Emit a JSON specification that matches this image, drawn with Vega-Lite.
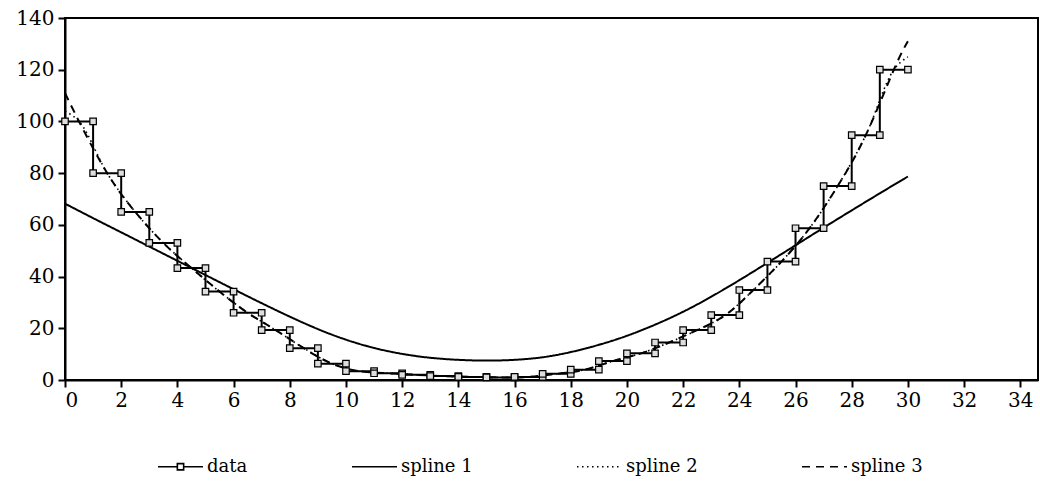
{
  "$schema": "https://vega.github.io/schema/vega-lite/v6.json",
  "autosize": {"type": "none"},
  "padding": {"left": 65, "top": 18, "right": 2, "bottom": 102},
  "width": 973,
  "height": 362,
  "background": "white",
  "datasets": {
    "steps": [
      {"k":0,"x":0,"y":100},{"k":1,"x":1,"y":100},
      {"k":2,"x":1,"y":80},{"k":3,"x":2,"y":80},
      {"k":4,"x":2,"y":65},{"k":5,"x":3,"y":65},
      {"k":6,"x":3,"y":53},{"k":7,"x":4,"y":53},
      {"k":8,"x":4,"y":43.3},{"k":9,"x":5,"y":43.3},
      {"k":10,"x":5,"y":34.2},{"k":11,"x":6,"y":34.2},
      {"k":12,"x":6,"y":26},{"k":13,"x":7,"y":26},
      {"k":14,"x":7,"y":19.3},{"k":15,"x":8,"y":19.3},
      {"k":16,"x":8,"y":12.3},{"k":17,"x":9,"y":12.3},
      {"k":18,"x":9,"y":6.3},{"k":19,"x":10,"y":6.3},
      {"k":20,"x":10,"y":3.4},{"k":21,"x":11,"y":3.4},
      {"k":22,"x":11,"y":2.6},{"k":23,"x":12,"y":2.6},
      {"k":24,"x":12,"y":2.0},{"k":25,"x":13,"y":2.0},
      {"k":26,"x":13,"y":1.5},{"k":27,"x":14,"y":1.5},
      {"k":28,"x":14,"y":1.2},{"k":29,"x":15,"y":1.2},
      {"k":30,"x":15,"y":1.0},{"k":31,"x":16,"y":1.0},
      {"k":32,"x":16,"y":1.2},{"k":33,"x":17,"y":1.2},
      {"k":34,"x":17,"y":2.4},{"k":35,"x":18,"y":2.4},
      {"k":36,"x":18,"y":4.0},{"k":37,"x":19,"y":4.0},
      {"k":38,"x":19,"y":7.3},{"k":39,"x":20,"y":7.3},
      {"k":40,"x":20,"y":10.3},{"k":41,"x":21,"y":10.3},
      {"k":42,"x":21,"y":14.5},{"k":43,"x":22,"y":14.5},
      {"k":44,"x":22,"y":19.3},{"k":45,"x":23,"y":19.3},
      {"k":46,"x":23,"y":25.1},{"k":47,"x":24,"y":25.1},
      {"k":48,"x":24,"y":34.8},{"k":49,"x":25,"y":34.8},
      {"k":50,"x":25,"y":45.8},{"k":51,"x":26,"y":45.8},
      {"k":52,"x":26,"y":58.7},{"k":53,"x":27,"y":58.7},
      {"k":54,"x":27,"y":75},{"k":55,"x":28,"y":75},
      {"k":56,"x":28,"y":94.7},{"k":57,"x":29,"y":94.7},
      {"k":58,"x":29,"y":120},{"k":59,"x":30,"y":120}
    ],
    "spl": [
      {"series":"spline 1","x":0,"y":68.2},
      {"series":"spline 1","x":1,"y":62.6},
      {"series":"spline 1","x":2,"y":57.1},
      {"series":"spline 1","x":3,"y":51.6},
      {"series":"spline 1","x":4,"y":46.1},
      {"series":"spline 1","x":5,"y":40.6},
      {"series":"spline 1","x":6,"y":35.1},
      {"series":"spline 1","x":7,"y":29.7},
      {"series":"spline 1","x":8,"y":24.5},
      {"series":"spline 1","x":9,"y":19.7},
      {"series":"spline 1","x":10,"y":15.6},
      {"series":"spline 1","x":11,"y":12.4},
      {"series":"spline 1","x":12,"y":10.1},
      {"series":"spline 1","x":13,"y":8.6},
      {"series":"spline 1","x":14,"y":7.8},
      {"series":"spline 1","x":15,"y":7.5},
      {"series":"spline 1","x":16,"y":7.8},
      {"series":"spline 1","x":17,"y":8.8},
      {"series":"spline 1","x":18,"y":10.8},
      {"series":"spline 1","x":19,"y":13.6},
      {"series":"spline 1","x":20,"y":17.1},
      {"series":"spline 1","x":21,"y":21.4},
      {"series":"spline 1","x":22,"y":26.4},
      {"series":"spline 1","x":23,"y":32.2},
      {"series":"spline 1","x":24,"y":38.6},
      {"series":"spline 1","x":25,"y":45.3},
      {"series":"spline 1","x":26,"y":52.1},
      {"series":"spline 1","x":27,"y":58.9},
      {"series":"spline 1","x":28,"y":65.6},
      {"series":"spline 1","x":29,"y":72.2},
      {"series":"spline 1","x":30,"y":78.7},

      {"series":"spline 2","x":0,"y":104},
      {"series":"spline 2","x":0.5,"y":100},
      {"series":"spline 2","x":1.5,"y":80},
      {"series":"spline 2","x":2.5,"y":65},
      {"series":"spline 2","x":3.5,"y":53},
      {"series":"spline 2","x":4.5,"y":43.3},
      {"series":"spline 2","x":5.5,"y":34.2},
      {"series":"spline 2","x":6.5,"y":26},
      {"series":"spline 2","x":7.5,"y":19.3},
      {"series":"spline 2","x":8.5,"y":12.3},
      {"series":"spline 2","x":9.5,"y":6.3},
      {"series":"spline 2","x":10.5,"y":3.4},
      {"series":"spline 2","x":11.5,"y":2.6},
      {"series":"spline 2","x":12.5,"y":2.0},
      {"series":"spline 2","x":13.5,"y":1.5},
      {"series":"spline 2","x":14.5,"y":1.2},
      {"series":"spline 2","x":15.5,"y":1.0},
      {"series":"spline 2","x":16.5,"y":1.2},
      {"series":"spline 2","x":17.5,"y":2.4},
      {"series":"spline 2","x":18.5,"y":4.0},
      {"series":"spline 2","x":19.5,"y":7.3},
      {"series":"spline 2","x":20.5,"y":10.3},
      {"series":"spline 2","x":21.5,"y":14.5},
      {"series":"spline 2","x":22.5,"y":19.3},
      {"series":"spline 2","x":23.5,"y":25.1},
      {"series":"spline 2","x":24.5,"y":34.8},
      {"series":"spline 2","x":25.5,"y":45.8},
      {"series":"spline 2","x":26.5,"y":58.7},
      {"series":"spline 2","x":27.5,"y":75},
      {"series":"spline 2","x":28.5,"y":94.7},
      {"series":"spline 2","x":29.5,"y":120},
      {"series":"spline 2","x":30,"y":125},

      {"series":"spline 3","x":0,"y":111},
      {"series":"spline 3","x":0.5,"y":100},
      {"series":"spline 3","x":1.5,"y":80},
      {"series":"spline 3","x":2.5,"y":65},
      {"series":"spline 3","x":3.5,"y":53},
      {"series":"spline 3","x":4.5,"y":43.3},
      {"series":"spline 3","x":5.5,"y":34.2},
      {"series":"spline 3","x":6.5,"y":26},
      {"series":"spline 3","x":7.5,"y":19.3},
      {"series":"spline 3","x":8.5,"y":12.3},
      {"series":"spline 3","x":9.5,"y":6.3},
      {"series":"spline 3","x":10.5,"y":3.4},
      {"series":"spline 3","x":11.5,"y":2.6},
      {"series":"spline 3","x":12.5,"y":2.0},
      {"series":"spline 3","x":13.5,"y":1.5},
      {"series":"spline 3","x":14.5,"y":1.2},
      {"series":"spline 3","x":15.5,"y":1.0},
      {"series":"spline 3","x":16.5,"y":1.2},
      {"series":"spline 3","x":17.5,"y":2.4},
      {"series":"spline 3","x":18.5,"y":4.0},
      {"series":"spline 3","x":19.5,"y":7.3},
      {"series":"spline 3","x":20.5,"y":10.3},
      {"series":"spline 3","x":21.5,"y":14.5},
      {"series":"spline 3","x":22.5,"y":19.3},
      {"series":"spline 3","x":23.5,"y":25.1},
      {"series":"spline 3","x":24.5,"y":34.8},
      {"series":"spline 3","x":25.5,"y":45.8},
      {"series":"spline 3","x":26.5,"y":58.7},
      {"series":"spline 3","x":27.5,"y":75},
      {"series":"spline 3","x":28.5,"y":94.7},
      {"series":"spline 3","x":29.5,"y":120},
      {"series":"spline 3","x":30,"y":131}
    ]
  },
  "encoding": {
    "x": {"field": "x", "type": "quantitative",
      "scale": {"domain": [0, 34.63], "nice": false, "zero": false},
      "axis": {"values": [0,2,4,6,8,10,12,14,16,18,20,22,24,26,28,30,32,34], "title": null, "grid": false,
        "tickSize": 7, "labelPadding": 3}},
    "y": {"field": "y", "type": "quantitative",
      "scale": {"domain": [0, 140], "nice": false},
      "axis": {"values": [0,20,40,60,80,100,120,140], "title": null, "grid": false,
        "tickSize": 7, "labelPadding": 4}}
  },
  "layer": [
    {
      "data": {"name": "spl"},
      "transform": [{"filter": "datum.series === 'spline 1'"}],
      "mark": {"type": "line", "interpolate": "natural", "strokeWidth": 2, "color": "black", "clip": true},
      "encoding": {
        "strokeDash": {"field": "series", "type": "nominal",
          "scale": {"domain": ["data","spline 1","spline 2","spline 3"], "range": [[1,0],[1,0],[1.5,3.5],[8,6]]},
          "legend": {"orient": "none", "legendX": 92, "legendY": 425, "direction": "horizontal", "title": null,
            "symbolType": "stroke", "symbolSize": 2025, "symbolStrokeWidth": 1.6, "symbolStrokeColor": "black",
            "labelFont": "DejaVu Serif", "labelFontSize": 18, "labelColor": "black", "labelOffset": 3,
            "columnPadding": 100, "padding": 0, "labelLimit": 300,
            "encode": {"symbols": {"update": {"shape": [
              {"test": "datum.label === 'data'", "value": "M-1,0H-0.14M0.14,0H1M-0.14,-0.14H0.14V0.14H-0.14Z"},
              {"value": "stroke"}]}}}}}
      }
    },
    {
      "data": {"name": "spl"},
      "transform": [{"filter": "datum.series === 'spline 2'"}],
      "mark": {"type": "line", "interpolate": "monotone", "strokeWidth": 1.6, "color": "black", "clip": true},
      "encoding": {
        "strokeDash": {"field": "series", "type": "nominal",
          "scale": {"domain": ["data","spline 1","spline 2","spline 3"], "range": [[1,0],[1,0],[1.5,3.5],[8,6]]}}
      }
    },
    {
      "data": {"name": "spl"},
      "transform": [{"filter": "datum.series === 'spline 3'"}],
      "mark": {"type": "line", "interpolate": "natural", "strokeWidth": 2, "color": "black", "clip": true},
      "encoding": {
        "strokeDash": {"field": "series", "type": "nominal",
          "scale": {"domain": ["data","spline 1","spline 2","spline 3"], "range": [[1,0],[1,0],[1.5,3.5],[8,6]]}}
      }
    },
    {
      "data": {"name": "steps"},
      "mark": {"type": "line", "strokeWidth": 2, "color": "black"},
      "encoding": {
        "order": {"field": "k", "type": "quantitative"},
        "strokeDash": {"datum": "data", "type": "nominal",
          "scale": {"domain": ["data","spline 1","spline 2","spline 3"], "range": [[1,0],[1,0],[1.5,3.5],[8,6]]}}
      }
    },
    {
      "data": {"name": "steps"},
      "mark": {"type": "point", "shape": "square", "size": 42, "filled": false, "fill": "#dddddd", "fillOpacity": 1, "stroke": "black", "strokeWidth": 1.2, "opacity": 1}
    }
  ],
  "config": {
    "view": {"stroke": "black", "strokeWidth": 2},
    "axis": {"domainColor": "black", "domainWidth": 2, "tickColor": "black", "tickWidth": 2,
      "labelFont": "DejaVu Serif", "labelFontSize": 20, "labelColor": "black"}
  }
}
